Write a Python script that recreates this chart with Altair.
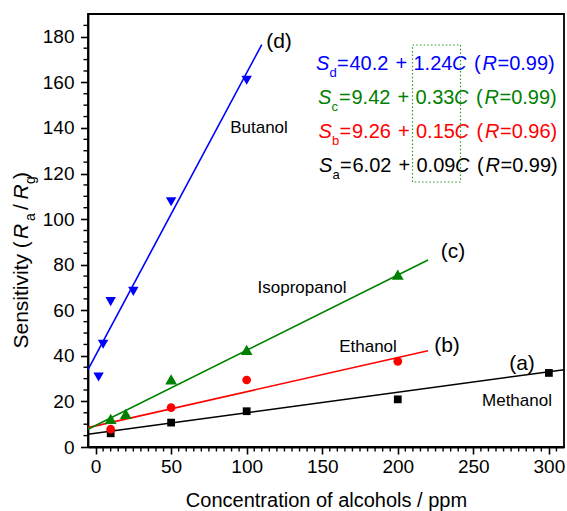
import altair as alt
import pandas as pd

FONT = "Liberation Sans"

# ---------------- data ----------------
methanol_x = [10, 50, 100, 200, 300]
methanol_y = [6.0, 10.7, 15.7, 20.9, 32.5]
ethanol_x = [10, 50, 100, 200]
ethanol_y = [7.8, 17.3, 29.4, 37.6]
isopropanol_x = [10, 20, 50, 100, 200]
isopropanol_y = [12.3, 14.5, 29.7, 42.6, 75.6]
butanol_x = [2, 5, 10, 25, 50, 100]
butanol_y = [30.7, 45.1, 63.8, 68.3, 107.6, 160.9]

series_names = ["Methanol", "Ethanol", "Isopropanol", "Butanol"]
series_tags = ["a", "b", "c", "d"]
series_colors = ["#000000", "#ff0000", "#008000", "#0000ff"]
series_shapes = ["square", "circle", "triangle-up", "triangle-down"]
series_sizes = [60, 76, 140, 110]

# linear fits S = A + B*C as printed on the figure
fit_intercept_txt = ["6.02", "9.26", "9.42", "40.2"]
fit_slope_txt = ["0.09", "0.15", "0.33", "1.24"]
fit_r_txt = ["0.99", "0.96", "0.99", "0.99"]
fit_x_from = [-5, -5, -5, -5]
fit_x_to = [310, 220, 220, 110]

x_major = [0, 50, 100, 150, 200, 250, 300]
y_major = [0, 20, 40, 60, 80, 100, 120, 140, 160, 180]
x_minor = [v for v in range(5, 310, 5) if v % 50 != 0]
y_minor = [v for v in range(5, 190, 5) if v % 20 != 0]

x_title = "Concentration of alcohols / ppm"

# ---------------- layout ----------------
PL, PT, W, H = 88, 14, 476, 433
X0, X1, Y0, Y1 = -5, 310, 0, 190


def dx(px):
    return X0 + (px - PL) / W * (X1 - X0)


def dy(py):
    return Y1 - (py - PT) / H * (Y1 - Y0)


xscale = alt.Scale(domain=[X0, X1], nice=False, zero=False)
yscale = alt.Scale(domain=[Y0, Y1], nice=False, zero=False)


def X(field="x", axis=None):
    return alt.X(f"{field}:Q", scale=xscale, axis=axis)


def Y(field="y", axis=None):
    return alt.Y(f"{field}:Q", scale=yscale, axis=axis)


# points table
xs = [methanol_x, ethanol_x, isopropanol_x, butanol_x]
ys = [methanol_y, ethanol_y, isopropanol_y, butanol_y]
pts_rows = []
for name, xv, yv in zip(series_names, xs, ys):
    for a, b in zip(xv, yv):
        pts_rows.append({"alcohol": name, "x": a, "y": b})
pts = pd.DataFrame(pts_rows)

# fit lines table
fit_rows = []
for name, a, b, x0, x1 in zip(series_names, fit_intercept_txt, fit_slope_txt, fit_x_from, fit_x_to):
    for xv in (x0, x1):
        fit_rows.append({"alcohol": name, "x": xv, "y": float(a) + float(b) * xv})
fits = pd.DataFrame(fit_rows)

major_x_axis = alt.Axis(values=x_major, orient="bottom", tickSize=7, tickWidth=1.6, tickColor="black",
                        domainColor="black", domainWidth=1.8, labelFont=FONT, labelFontSize=19,
                        labelColor="black", labelPadding=3, grid=False, title=None,
                        labelFlush=False, labelOverlap=False)
major_y_axis = alt.Axis(values=y_major, orient="left", tickSize=7.5, tickWidth=1.6, tickColor="black",
                        domainColor="black", domainWidth=1.8, labelFont=FONT, labelFontSize=19,
                        labelColor="black", labelPadding=6.5, grid=False, title=None,
                        labelFlush=False, labelOverlap=False)

layers = []

# fit lines (carry the main axes)
layers.append(
    alt.Chart(fits).mark_line(strokeWidth=1.6).encode(
        x=X(axis=major_x_axis),
        y=Y(axis=major_y_axis),
        color=alt.Color("alcohol:N", scale=alt.Scale(domain=series_names, range=series_colors), legend=None),
        detail="alcohol:N",
    )
)

# minor ticks
layers.append(
    alt.Chart(pd.DataFrame({"v": x_minor})).mark_rule(color="black", strokeWidth=1.4).encode(
        x=X("v"), y=alt.value(H), y2=alt.value(H + 4.5)
    )
)
layers.append(
    alt.Chart(pd.DataFrame({"v": y_minor})).mark_rule(color="black", strokeWidth=1.4).encode(
        y=Y("v"), x=alt.value(0), x2=alt.value(-4.5)
    )
)

# markers
for name, col, shp, sz in zip(series_names, series_colors, series_shapes, series_sizes):
    layers.append(
        alt.Chart(pts[pts.alcohol == name]).mark_point(
            filled=True, shape=shp, size=sz, color=col, opacity=1, strokeWidth=0
        ).encode(x=X(), y=Y())
    )


def text_layer(rows, size, style="normal", angle=0, align="left", baseline="alphabetic"):
    df = pd.DataFrame(rows, columns=["t", "px", "py", "color"])
    df["x"] = df["px"].map(dx)
    df["y"] = df["py"].map(dy)
    kw = dict(font=FONT, fontSize=size, fontStyle=style, align=align, baseline=baseline)
    if angle:
        kw["angle"] = angle
    return alt.Chart(df).mark_text(**kw).encode(
        x=X(), y=Y(), text="t:N", color=alt.Color("color:N", scale=None)
    )


# series tags (a)-(d) and alcohol names
tag_pos = {"d": (279, 42), "c": (453, 252), "b": (447, 346), "a": (522, 364)}
name_pos = {"Butanol": (259, 128), "Isopropanol": (302, 288), "Ethanol": (368, 347), "Methanol": (517, 401)}
layers.append(text_layer([(f"({t})", *tag_pos[t], "black") for t in series_tags], 21,
                         align="center", baseline="middle"))
layers.append(text_layer([(n, *name_pos[n], "black") for n in series_names], 17,
                         align="center", baseline="middle"))

# fit equations, top to bottom: d, c, b, a
eq_order = [3, 2, 1, 0]
eq_base = [70, 104, 138, 172]
eq_shift = [0, 2, 2.5, 3]
norm_rows, ital_rows, sub_rows = [], [], []
for k, i in enumerate(eq_order):
    c = series_colors[i]
    yb = eq_base[k]
    s = eq_shift[k]
    ital_rows.append(("S", 316 + s, yb, c))
    sub_rows.append((series_tags[i], 329.5 + s, yb + 7, c))
    norm_rows.append(("=", 337 + s, yb, c))
    norm_rows.append((fit_intercept_txt[i], 349.5 + s, yb, c))
    norm_rows.append(("+", 395.5 + s, yb, c))
    norm_rows.append((fit_slope_txt[i], 413.5 + s, yb, c))
    ital_rows.append(("C", 452 + s, yb, c))
    norm_rows.append(("(", 474 + s, yb, c))
    ital_rows.append(("R", 482.5 + s, yb, c))
    norm_rows.append((f"={fit_r_txt[i]})", 497.5 + s, yb, c))
layers.append(text_layer(norm_rows, 20))
layers.append(text_layer(ital_rows, 20, style="italic"))
layers.append(text_layer(sub_rows, 13))

# dotted box around the slopes
box = pd.DataFrame({"x": [dx(412.5)], "x2": [dx(460.5)], "y": [dy(45)], "y2": [dy(182)]})
layers.append(
    alt.Chart(box).mark_rect(filled=False, stroke="#2a9a2a", strokeWidth=1.2, strokeDash=[1.5, 2.2]).encode(
        x=X(), x2="x2:Q", y=Y(), y2="y2:Q"
    )
)

# axis titles
layers.append(text_layer([(x_title, 326.5, 506.5, "black")], 20, align="center"))
layers.append(text_layer([("Sensitivity (", 28, 348.5, "black"),
                          ("/", 28, 210, "black"),
                          (")", 28, 179, "black")], 21, angle=270))
layers.append(text_layer([("R", 28, 239, "black"), ("R", 28, 199.5, "black")], 21, style="italic", angle=270))
layers.append(text_layer([("a", 35, 221, "black"), ("g", 35, 184, "black")], 14, angle=270))

chart = (
    alt.layer(*layers)
    .resolve_axis(x="independent", y="independent")
    .properties(
        width=W,
        height=H,
        padding={"left": PL, "top": PT, "right": 567 - PL - W, "bottom": 511 - PT - H},
        autosize=alt.AutoSizeParams(type="none"),
        background="white",
    )
    .configure_view(stroke="black", strokeWidth=1.8)
)

chart.save("out.html", embed_options={"renderer": "svg", "actions": False})
